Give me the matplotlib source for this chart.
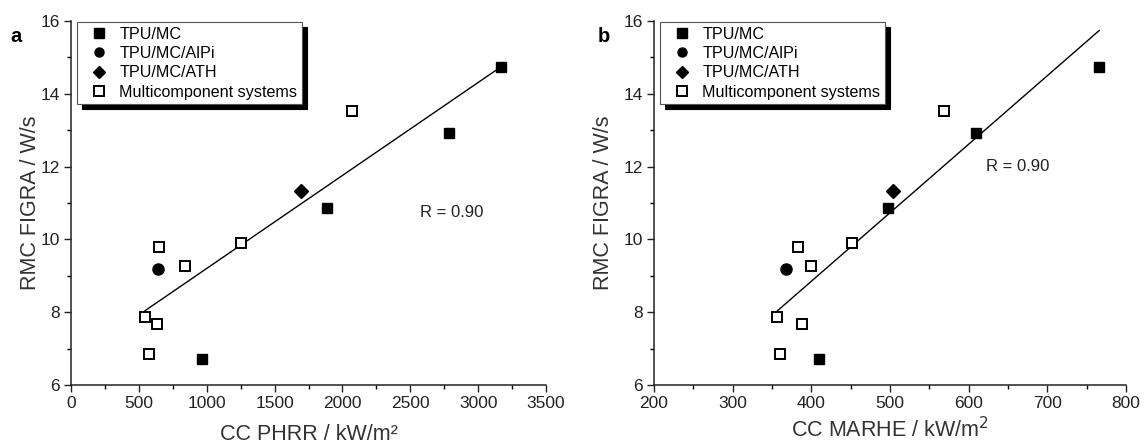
import matplotlib
matplotlib.use("Agg")
import matplotlib.pyplot as plt
from matplotlib.ticker import MultipleLocator

plt.rcParams["font.family"] = ["Liberation Sans", "DejaVu Sans"]

# RMC FIGRA values (W/s), shared by both panels
figra_mc = [14.74, 12.92, 10.86, 6.71]
figra_alpi = [9.20]
figra_ath = [11.32]
figra_multi = [13.53, 9.80, 9.27, 9.91, 7.88, 7.67, 6.85]

# Cone calorimeter PHRR (kW/m2)
phrr_mc = [3168, 2782, 1887, 968]
phrr_alpi = [639]
phrr_ath = [1694]
phrr_multi = [2069, 645, 838, 1254, 547, 634, 577]

# Cone calorimeter MARHE (kW/m2)
marhe_mc = [766, 609.7, 497.5, 409.5]
marhe_alpi = [367.6]
marhe_ath = [503.5]
marhe_multi = [568.7, 383, 399.3, 452.3, 356.9, 387.6, 360.1]

# Linear fit end points
fit_phrr_x = [545, 3168]
fit_phrr_y = [8.04, 14.74]
fit_marhe_x = [357, 766]
fit_marhe_y = [8.04, 15.74]

series_labels = ["TPU/MC", "TPU/MC/AlPi", "TPU/MC/ATH", "Multicomponent systems"]
r_label = "R = 0.90"

W, H = 1147, 447
fig = plt.figure(figsize=(W / 100, H / 100), dpi=100)
ax_a = fig.add_axes([71 / W, 1 - 385 / H, 475 / W, 364 / H])
ax_b = fig.add_axes([654 / W, 1 - 385 / H, 472 / W, 364 / H])


def draw_panel(ax, xs, fit_x, fit_y, xlim, xmajor, xminor, xlabel, xlabelpad,
               ylabelpad, letter, letter_px, r_xy):
    x_mc, x_alpi, x_ath, x_multi = xs
    ax.plot(fit_x, fit_y, color="black", lw=1.0, zorder=2)
    ms = 7.5
    ax.plot(x_mc, figra_mc, ls="none", marker="s", ms=ms, mfc="black", mec="black",
            label=series_labels[0], zorder=3)
    ax.plot(x_alpi, figra_alpi, ls="none", marker="o", ms=ms + 0.5, mfc="black", mec="black",
            label=series_labels[1], zorder=3)
    ax.plot(x_ath, figra_ath, ls="none", marker="D", ms=ms - 0.5, mfc="black", mec="black",
            label=series_labels[2], zorder=3)
    ax.plot(x_multi, figra_multi, ls="none", marker="s", ms=ms, mfc="white", mec="black",
            mew=1.4, label=series_labels[3], zorder=3)

    ax.set_xlim(*xlim)
    ax.set_ylim(6, 16)
    ax.xaxis.set_major_locator(MultipleLocator(xmajor))
    ax.xaxis.set_minor_locator(MultipleLocator(xminor))
    ax.yaxis.set_major_locator(MultipleLocator(2))
    ax.yaxis.set_minor_locator(MultipleLocator(1))
    ax.tick_params(which="major", direction="out", length=5, width=1.0, labelsize=12.5,
                   colors="#222222", pad=3)
    ax.tick_params(which="minor", direction="out", length=3, width=1.0)
    for side in ("top", "right"):
        ax.spines[side].set_visible(False)
    for side in ("left", "bottom"):
        ax.spines[side].set_linewidth(1.1)
        ax.spines[side].set_color("#222222")

    ax.set_xlabel(xlabel, fontsize=15.5, color="#333333", labelpad=xlabelpad)
    ax.set_ylabel("RMC FIGRA / W/s", fontsize=15.5, color="#333333", labelpad=ylabelpad)

    ax.text(r_xy[0], r_xy[1], r_label, fontsize=12, color="#222222",
            ha="left", va="center")
    fig.text(letter_px[0] / W, 1 - letter_px[1] / H, letter, fontsize=14.5,
             fontweight="bold", ha="center", va="center")

    leg = ax.legend(loc="upper left", bbox_to_anchor=(0.012, 0.998), borderaxespad=0,
                    frameon=True, fancybox=False, framealpha=1, edgecolor="#555555",
                    fontsize=11.6, handlelength=2.2, handletextpad=0.15,
                    borderpad=0.3, labelspacing=0.27, numpoints=1,
                    shadow={"ox": 3.5, "oy": -3.5, "color": "black", "alpha": 1})
    leg.get_frame().set_linewidth(0.8)
    for h in leg.legend_handles:
        h.set_markersize(6.5)


draw_panel(ax_a, (phrr_mc, phrr_alpi, phrr_ath, phrr_multi), fit_phrr_x, fit_phrr_y,
           (0, 3500), 500, 250, "CC PHRR / kW/m²", 9, 0, "a", (16, 36), (2570, 10.75))
draw_panel(ax_b, (marhe_mc, marhe_alpi, marhe_ath, marhe_multi), fit_marhe_x, fit_marhe_y,
           (200, 800), 100, 50, "CC MARHE / kW/m$^2$", 4, 7, "b", (604, 37), (622, 12.0))

fig.savefig("out.png", dpi=100)
